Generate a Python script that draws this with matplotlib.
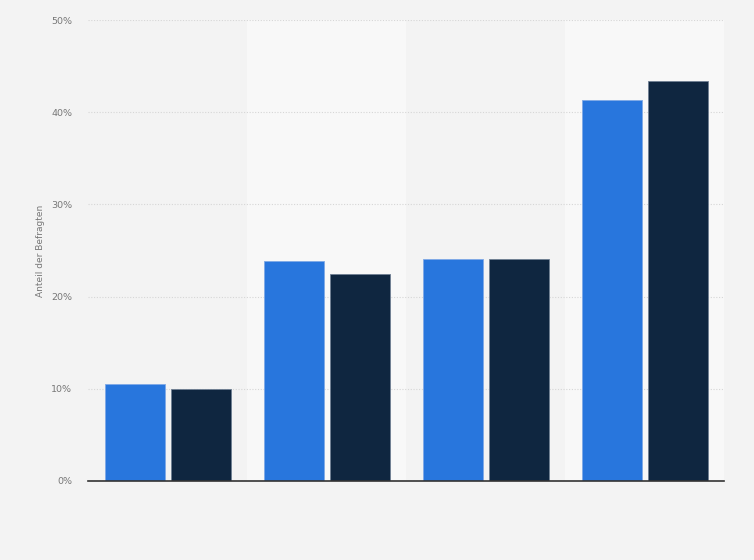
import numpy as np
import matplotlib.pyplot as plt

groups = ["1", "2", "3", "4"]
series_a = [10.5, 23.9, 24.1, 41.3]
series_b = [10.0, 22.4, 24.1, 43.4]
yticks = [0, 10, 20, 30, 40, 50]

fig = plt.figure(figsize=(7.54, 5.60), dpi=100, facecolor="#f3f3f3")
ax = fig.add_axes([88 / 754, 79 / 560, 636 / 754, 461 / 560])
ax.set_facecolor("#f3f3f3")

x = np.arange(len(groups))
# alternating column bands
for i in x:
    if i % 2 == 1:
        ax.axvspan(i - 0.5, i + 0.5, color="#f8f8f8", zorder=0, lw=0)

w = 0.377
ax.bar(x - 0.205, series_a, width=w, color="#2876dd", edgecolor="#7fa9e6", linewidth=0.6, zorder=3)
ax.bar(x + 0.21, series_b, width=w, color="#0f2640", edgecolor="#6f7f93", linewidth=0.6, zorder=3)

ax.set_xlim(-0.5, len(groups) - 0.5)
ax.set_ylim(0, 50)
ax.set_yticks(yticks)
ax.set_yticklabels([f"{t}%" for t in yticks])
ax.set_xticks([])
ax.grid(axis="y", color="#d6d6d6", linestyle=(0, (1, 1.5)), linewidth=0.8, zorder=1)
ax.set_axisbelow(True)

for s in ["top", "right", "left"]:
    ax.spines[s].set_visible(False)
ax.spines["bottom"].set_color("#333333")
ax.spines["bottom"].set_linewidth(1.2)
ax.spines["bottom"].set_zorder(4)

ax.tick_params(axis="y", length=0, labelsize=6.8, labelcolor="#777777", pad=11.5)
ax.set_ylabel("Anteil der Befragten", fontsize=6.5, color="#777777", labelpad=4)

fig.savefig("out.png", dpi=100, facecolor=fig.get_facecolor())
